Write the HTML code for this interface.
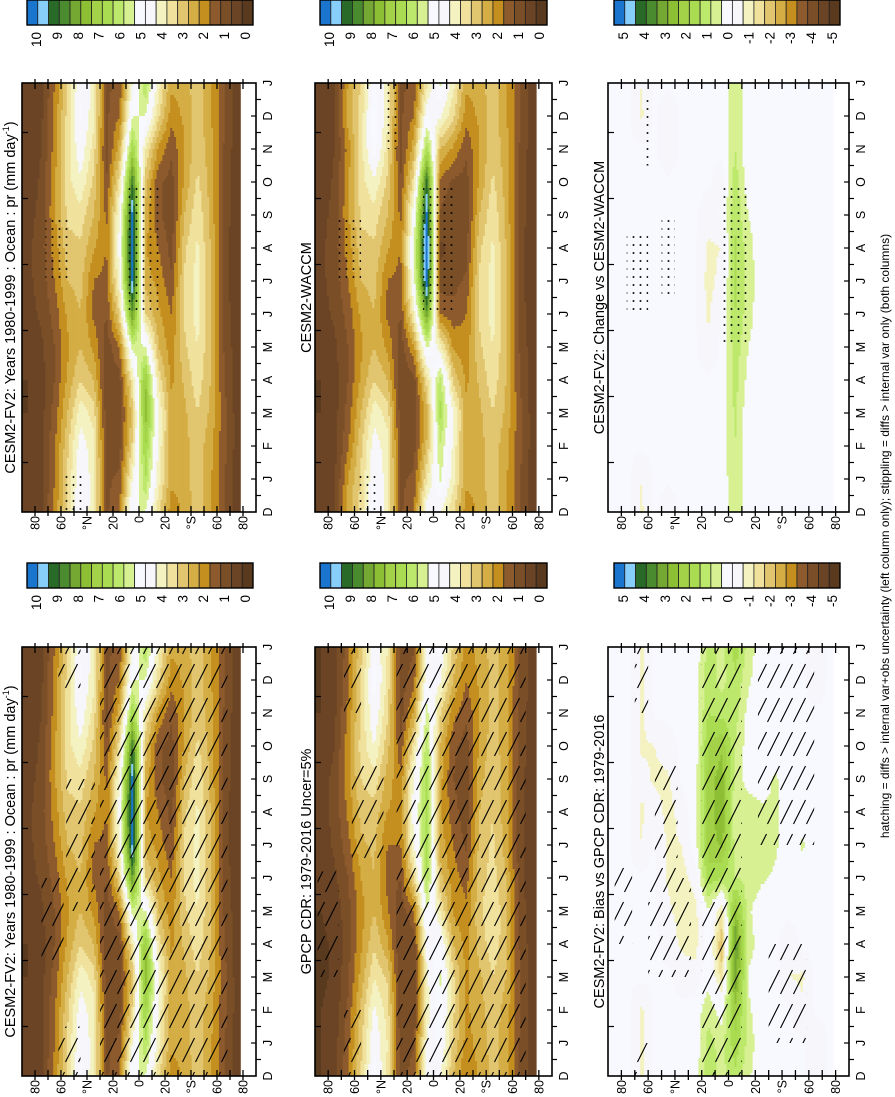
<!DOCTYPE html>
<html><head><meta charset="utf-8"><title>Precipitation zonal-mean seasonal cycle</title>
<style>
html,body{margin:0;padding:0;background:#fff;}
svg{display:block;font-family:"Liberation Sans",Arial,sans-serif;}
</style></head>
<body>
<svg id="fig" xmlns="http://www.w3.org/2000/svg" width="895" height="1097" viewBox="0 0 895 1097">
<defs>
<pattern id="hatch" patternUnits="userSpaceOnUse" width="34" height="13"><line x1="1" y1="0.5" x2="25" y2="12.5" stroke="#000" stroke-width="1.1"/></pattern>
<pattern id="stip" patternUnits="userSpaceOnUse" width="8" height="7"><circle cx="4" cy="3.5" r="0.95" fill="#000"/></pattern>
</defs>
<g id="root" transform="translate(0,1097) rotate(-90)"></g>
</svg>
<script>
// ---------- data ----------
const monthLabels = ['D','J','F','M','A','M','J','J','A','S','O','N','D','J'];
const lats = [85,75,65,55,45,35,25,15,5,-5,-15,-25,-35,-45,-55,-65,-75];
const latTickVals = [80,60,40,20,0,-20,-40,-60,-80];
const latTickLabels = ['80','60','°N','20','0','20','°S','60','80'];
const meanCbLabels = ['10','9','8','7','6','5','4','3','2','1','0'];
const diffCbLabels = ['5','4','3','2','1','0','-1','-2','-3','-4','-5'];

// months J..D ; rows = lats
const modelPr = [
[0.6,0.6,0.5,0.5,0.6,0.8,0.9,0.9,0.8,0.7,0.6,0.6],
[0.9,0.9,0.8,0.8,0.9,1.1,1.2,1.3,1.2,1.1,1.0,0.9],
[2.0,1.9,1.7,1.5,1.5,1.7,2.0,2.2,2.4,2.4,2.2,2.1],
[3.6,3.4,3.0,2.6,2.4,2.6,3.0,3.3,3.6,3.8,3.8,3.7],
[5.0,4.8,4.3,3.5,3.0,3.0,3.2,3.4,3.8,4.4,4.9,5.1],
[4.3,4.2,3.8,3.0,2.4,1.9,2.0,2.6,3.0,3.4,3.8,4.2],
[1.4,1.3,1.2,1.1,1.2,1.5,1.8,2.0,1.9,1.5,1.3,1.4],
[1.6,1.3,1.2,1.3,2.0,3.5,4.5,4.8,4.6,3.8,2.8,2.0],
[4.5,3.6,3.2,4.0,5.8,8.5,10.2,10.5,10.2,9.0,7.0,5.5],
[6.5,7.0,7.8,7.5,5.5,3.5,2.8,2.5,2.8,3.2,4.0,5.5],
[4.2,4.4,4.6,3.8,3.0,2.6,2.3,2.0,1.6,1.6,2.4,3.6],
[2.6,2.6,2.6,2.4,2.2,2.0,1.6,1.3,1.2,1.3,1.6,2.2],
[2.8,2.8,2.9,3.1,3.4,3.6,3.6,3.4,3.0,2.6,2.5,2.6],
[3.3,3.3,3.5,3.8,4.0,4.2,4.2,4.1,3.9,3.6,3.4,3.3],
[2.6,2.7,2.9,3.0,3.1,3.1,3.1,3.0,2.9,2.8,2.7,2.6],
[1.6,1.7,1.7,1.6,1.5,1.4,1.3,1.3,1.4,1.5,1.5,1.6],
[0.8,0.8,0.8,0.7,0.7,0.6,0.6,0.6,0.6,0.7,0.7,0.8]];

const gpcpPr = [
[0.5,0.5,0.4,0.4,0.5,0.6,0.7,0.8,0.7,0.6,0.5,0.5],
[0.8,0.7,0.6,0.6,0.7,0.9,1.1,1.2,1.2,1.0,0.9,0.8],
[1.8,1.6,1.4,1.3,1.3,1.5,1.8,2.1,2.3,2.3,2.1,1.9],
[3.4,3.1,2.7,2.4,2.3,2.5,2.9,3.2,3.5,3.7,3.6,3.5],
[5.0,4.6,4.0,3.4,3.0,3.0,3.1,3.3,3.8,4.5,5.0,5.2],
[4.0,3.8,3.4,2.6,2.1,1.8,2.0,2.5,2.8,3.2,3.6,3.9],
[1.2,1.1,1.0,1.0,1.1,1.5,2.0,2.3,2.1,1.6,1.2,1.2],
[1.4,1.1,1.0,1.2,2.0,3.6,4.5,4.8,4.6,3.8,2.6,1.8],
[4.6,4.2,4.4,4.8,5.5,6.5,6.8,6.8,6.7,6.4,5.8,5.0],
[5.2,5.4,5.6,5.2,4.0,3.2,2.8,2.6,2.7,3.0,3.6,4.6],
[3.4,3.6,3.6,3.0,2.4,2.2,2.0,1.7,1.5,1.6,2.2,3.0],
[2.3,2.4,2.4,2.3,2.1,1.8,1.4,1.2,1.2,1.3,1.6,2.0],
[2.7,2.8,2.9,3.2,3.4,3.3,3.2,3.0,2.8,2.6,2.5,2.6],
[3.2,3.3,3.5,3.8,3.9,3.7,3.6,3.5,3.4,3.3,3.2,3.2],
[2.7,2.8,3.0,3.2,3.2,3.0,2.8,2.7,2.7,2.7,2.7,2.7],
[1.5,1.6,1.6,1.5,1.4,1.3,1.3,1.3,1.3,1.4,1.4,1.5],
[0.8,0.8,0.8,0.7,0.6,0.6,0.6,0.6,0.6,0.7,0.7,0.8]];

const waccmPr = [
[0.6,0.6,0.5,0.5,0.6,0.8,0.9,0.9,0.8,0.7,0.6,0.6],
[0.9,0.9,0.8,0.8,0.9,1.1,1.2,1.3,1.2,1.1,1.0,0.9],
[2.5,1.9,1.7,1.5,1.5,1.7,2.0,2.2,2.4,2.4,2.2,2.7],
[3.6,3.4,3.0,2.6,2.4,2.6,3.0,3.3,3.6,3.8,3.8,3.7],
[5.0,4.8,4.3,3.5,3.0,3.0,3.2,3.4,3.8,4.4,5.3,5.5],
[4.3,4.2,3.8,3.0,2.4,1.9,2.0,2.6,3.0,3.4,3.8,4.2],
[1.4,1.3,1.2,1.1,1.2,1.5,1.8,2.0,1.9,1.5,1.3,1.4],
[1.6,1.3,1.2,1.3,2.4,4.1,5.2,5.4,4.9,3.8,2.8,2.0],
[3.9,3.1,2.8,3.7,5.6,8.5,10.5,11.0,10.2,9.3,6.7,5.0],
[5.6,6.0,6.7,6.3,4.2,2.0,1.2,0.9,1.4,1.9,3.0,4.6],
[4.2,4.4,4.6,3.4,2.4,1.7,1.3,1.1,1.0,1.4,2.4,3.6],
[2.6,2.6,2.6,2.4,2.2,2.0,1.6,1.3,1.2,1.3,1.6,2.2],
[2.8,2.8,2.9,3.1,3.4,3.6,3.6,3.4,3.0,2.6,2.5,2.6],
[3.3,3.3,3.5,3.8,4.0,4.2,4.2,4.1,3.9,3.6,3.4,3.3],
[2.6,2.7,2.9,3.0,3.1,3.1,3.1,3.0,2.9,2.8,2.7,2.6],
[1.6,1.7,1.7,1.6,1.5,1.4,1.3,1.3,1.4,1.5,1.5,1.6],
[0.8,0.8,0.8,0.7,0.7,0.6,0.6,0.6,0.6,0.7,0.7,0.8]];

const biasPr = [
[0.1,0.1,0.1,0.1,0.1,0.1,0.1,0.1,0.1,0.1,0.1,0.1],
[0.1,0.1,0.1,0.1,0.1,0.1,0.1,0.1,0.1,0.1,0.1,0.1],
[-0.6,-0.6,0.1,0.1,0.1,0.1,-0.5,-0.6,-0.3,-0.6,-0.6,-0.6],
[0.1,0.1,0.1,0.1,0.1,0.1,0.1,-0.2,-0.6,-0.5,0.1,0.1],
[0.1,0.1,0.1,-0.2,-0.4,-0.6,-0.6,-0.7,-0.6,-0.2,0.1,0.1],
[0.1,0.1,-0.2,-0.6,-0.7,-0.7,-0.5,-0.3,0.1,0.1,0.1,0.1],
[0.1,0.2,-0.3,-0.7,-0.7,-0.3,0.2,0.3,0.2,0.1,0.2,0.2],
[1.2,0.8,0.3,0.2,0.5,1.8,2.2,2.2,2.2,2.0,1.5,1.3],
[0.8,0.2,-1.2,-2.0,-1.0,1.5,2.6,3.0,2.8,2.4,1.3,0.8],
[1.8,2.4,3.4,3.6,2.6,1.0,0.8,0.6,0.8,1.0,1.2,1.4],
[0.8,0.6,0.4,0.8,0.6,0.9,1.0,0.8,0.3,0.2,0.3,0.6],
[0.1,0.1,0.1,0.1,0.1,0.6,0.8,0.6,0.2,0.1,0.1,0.1],
[0.1,0.1,0.1,0.1,0.1,0.4,0.6,0.6,0.6,0.1,0.1,0.1],
[0.1,0.1,-0.5,-0.3,0.1,0.1,0.1,0.1,0.1,0.1,0.1,0.1],
[0.1,-0.4,-0.6,0.1,0.1,0.1,0.6,0.1,0.1,0.1,0.1,0.1],
[-0.5,0.1,0.1,0.1,0.1,0.1,0.1,0.1,0.1,0.1,0.1,-0.4],
[0.1,0.1,0.1,0.1,0.1,0.1,0.1,0.1,0.1,0.1,0.1,0.1]];

const changePr = [
[0.1,0.1,0.1,0.1,0.1,0.1,0.1,0.1,0.1,0.1,0.1,0.1],
[0.1,0.1,0.1,0.1,0.1,0.1,0.1,0.1,0.1,0.1,0.1,0.1],
[-0.5,0.1,0.1,0.1,0.1,0.1,0.1,0.1,0.1,0.1,0.1,-0.6],
[0.1,0.1,0.1,0.1,0.1,0.1,0.1,0.1,0.1,0.1,0.1,0.1],
[0.1,0.1,0.1,0.1,0.1,0.1,0.1,0.1,0.1,0.1,-0.4,-0.4],
[0.1,0.1,0.1,0.1,0.1,0.1,0.1,0.1,0.1,0.1,0.1,0.1],
[0.1,0.1,0.1,0.1,0.1,0.1,0.1,0.1,0.1,0.1,0.1,0.1],
[0.1,0.1,0.1,0.1,-0.4,-0.6,-0.7,-0.6,-0.3,0.1,0.1,0.1],
[0.2,0.2,0.2,0.1,0.1,0.1,-0.3,-0.5,0.1,-0.3,0.1,0.2],
[0.9,1.0,1.1,1.2,1.3,1.5,1.6,1.6,1.4,1.3,1.0,0.9],
[0.1,0.1,0.1,0.3,0.5,0.7,0.8,0.7,0.5,0.1,0.1,0.1],
[0.1,0.1,0.1,0.1,0.1,0.1,0.1,0.1,0.1,0.1,0.1,0.1],
[0.1,0.1,0.1,0.1,0.1,0.1,0.1,0.1,0.1,0.1,0.1,0.1],
[0.1,0.1,0.1,0.1,0.1,0.1,0.1,0.1,0.1,0.1,0.1,0.1],
[0.1,0.1,0.1,0.1,0.1,0.1,0.1,0.1,0.1,0.1,0.1,0.1],
[0.1,0.1,0.1,0.1,0.1,0.1,0.1,0.1,0.1,0.1,0.1,0.1],
[0.1,0.1,0.1,0.1,0.1,0.1,0.1,0.1,0.1,0.1,0.1,0.1]];

// significance regions: [monthPosStart, monthPosEnd, latTop, latBottom]
const hatchModel = [[0,13,30,-68],[3.5,6,75,58],[5,9,56,34],[0,1.5,62,45],[11.5,13,62,45]];
const hatchGpcp = [[0,13,28,-70],[3,6.2,88,72],[6.5,9.5,62,38],[0,2,68,55],[11,13,68,55]];
const hatchBias = [[0,13,20,-10],[3,6,60,28],[6,9.5,55,38],[1,4,-30,-58],[7,13,-22,-64],[0,1,70,60],[11,13,70,60],[4,6.5,85,72]];
const stipModel = [[6,10,8,-15],[7,9,72,55],[0,1.2,58,42]];
const stipWaccm = [[6,10,8,-15],[7,9,72,55],[0,1.2,58,42],[11,13,35,25]];
const stipChange = [[5,10,5,-15],[6,8.5,76,60],[6.5,9,50,40],[10.5,12.5,65,58]];

const palette = ['#1a75cf','#87cefa','#2a6a28','#4b8b2f','#74a833','#8dbf35','#a3d248','#aadc52','#bce86c','#d6f092','#f8f8ff','#f6f6fb','#f3f2c0','#f0e29d','#e1c56f','#d4ad45','#c48f1f','#8c5a2c','#7a4e26','#6a4424','#593a1f'];

// ---------- layout ----------
const NS = 'http://www.w3.org/2000/svg';
const root = document.getElementById('root');
function el(tag, attrs, parent){ const e=document.createElementNS(NS,tag); for(const k in attrs) e.setAttribute(k,attrs[k]); (parent||root).appendChild(e); return e; }

const L = {u0:21,u1:450}, R = {u0:585,u1:1014};
const rows = [{v0:22,v1:256,cb:[27,253],tv:15},{v0:315,v1:552,cb:[320,547],tv:311},{v0:608,v1:849,cb:[614,840],tv:604}];
const panels = [
 {name:'model-mean-panel', col:L, row:0, data:modelPr, kind:'mean', title:'CESM2-FV2: Years 1980-1999 : Ocean : pr (mm day', sup:true, hatch:hatchModel, stip:[]},
 {name:'model-mean-panel-2', col:R, row:0, data:modelPr, kind:'mean', title:'CESM2-FV2: Years 1980-1999 : Ocean : pr (mm day', sup:true, hatch:[], stip:stipModel},
 {name:'gpcp-obs-panel', col:L, row:1, data:gpcpPr, kind:'mean', title:'GPCP CDR: 1979-2016 Uncer=5%', hatch:hatchGpcp, stip:[]},
 {name:'waccm-panel', col:R, row:1, data:waccmPr, kind:'mean', title:'CESM2-WACCM', hatch:[], stip:stipWaccm},
 {name:'bias-panel', col:L, row:2, data:biasPr, kind:'diff', title:'CESM2-FV2: Bias vs GPCP CDR: 1979-2016', hatch:hatchBias, stip:[]},
 {name:'change-panel', col:R, row:2, data:changePr, kind:'diff', title:'CESM2-FV2: Change vs CESM2-WACCM', hatch:[], stip:stipChange}
];

function colorIdx(val, kind){
  const top = kind==='mean'?10:5;
  if(val>=top) return 0;
  return Math.max(0,Math.min(20,Math.floor((top-val)/0.5)+1));
}
function sample(data, t, lat){
  let i0=Math.floor(t), f=t-i0; if(i0>=13){i0=12;f=1;}
  const m0=(i0+11)%12, m1=(i0+12)%12;
  let r=(85-lat)/10; r=Math.max(0,Math.min(16,r));
  const r0=Math.min(15,Math.floor(r)), g=r-r0;
  const a=data[r0][m0]*(1-f)+data[r0][m1]*f;
  const b=data[r0+1][m0]*(1-f)+data[r0+1][m1]*f;
  return a*(1-g)+b*g;
}

panels.forEach(p=>{
  const row=rows[p.row], col=p.col;
  const uOf=t=>col.u0+t*(col.u1-col.u0)/13;
  const vOf=lat=>row.v0+(90-lat)*(row.v1-row.v0)/180;
  const g=el('g',{});
  
  
  const hm=el('g',{},g);
  
  
  const NU=143, dLat=1.5;
  for(let lat=90; lat>-78; lat-=dLat){
    const vA=vOf(lat), vB=vOf(Math.max(lat-dLat,-78));
    let runStart=0, runIdx=-1;
    for(let k=0;k<=NU;k++){
      let idx=-2;
      if(k<NU){ const t=(k+0.5)*13/NU; idx=colorIdx(sample(p.data,t,lat-dLat/2),p.kind); }
      if(idx!==runIdx){
        if(runIdx>=0){
          const r=el('rect',{x:uOf(runStart*13/NU).toFixed(2),y:vA.toFixed(2),width:(uOf(k*13/NU)-uOf(runStart*13/NU)+0.4).toFixed(2),height:(vB-vA+0.4).toFixed(2),fill:palette[runIdx]},hm);
          
          
        }
        runStart=k; runIdx=idx;
      }
    }
  }
  p.hatch.forEach(h=>{
    const r=el('rect',{x:uOf(h[0]),y:vOf(h[2]),width:uOf(h[1])-uOf(h[0]),height:vOf(h[3])-vOf(h[2]),fill:'url(#hatch)'},g);
    
    
  });
  p.stip.forEach(h=>{
    const r=el('rect',{x:uOf(h[0]),y:vOf(h[2]),width:uOf(h[1])-uOf(h[0]),height:vOf(h[3])-vOf(h[2]),fill:'url(#stip)'},g);
    
    
  });
  const fr=el('rect',{x:col.u0,y:row.v0,width:col.u1-col.u0,height:row.v1-row.v0,fill:'none',stroke:'#000','stroke-width':1.6},g);
  
  
  for(let lat=80; lat>=-80; lat-=10){
    const v=vOf(lat);
    el('line',{x1:col.u0-4,y1:v,x2:col.u0+6,y2:v,stroke:'#000','stroke-width':1.3},g);
    el('line',{x1:col.u1-6,y1:v,x2:col.u1+4,y2:v,stroke:'#000','stroke-width':1.3},g);
  }
  latTickVals.forEach((lt,i)=>{
    const t=el('text',{x:col.u0-4,y:vOf(lt)+4.5,'text-anchor':'end','font-size':12.5,fill:'#000'},g);
    t.textContent=latTickLabels[i];
    
    
  });
  monthLabels.forEach((m,i)=>{
    const u=uOf(i);
    if(i>0&&i<13) el('line',{x1:u,y1:row.v1-5,x2:u,y2:row.v1,stroke:'#000','stroke-width':1.2},g);
    if(i<13){ const um=uOf(i+0.5); el('line',{x1:um,y1:row.v1,x2:um,y2:row.v1+5,stroke:'#000','stroke-width':1.2},g);
      if(i%2===1) el('line',{x1:um,y1:row.v0,x2:um,y2:row.v0+6,stroke:'#000','stroke-width':1.2},g); }
    const t=el('text',{x:u,y:row.v1+16,'text-anchor':'middle','font-size':12.5,fill:'#000'},g);
    t.textContent=m;
    
    
  });
  const tt=el('text',{x:(col.u0+col.u1)/2,y:row.tv,'text-anchor':'middle','font-size':14.5,fill:'#000'},g);
  tt.textContent=p.title;
  
  
  if(p.sup){
    const s=el('tspan',{'font-size':9,dy:-6},tt); s.textContent='-1';
    const s2=el('tspan',{dy:6},tt); s2.textContent=')';
  }
  const cbU0 = col===L?509:1072, cbU1 = col===L?534:1097;
  const cb=el('g',{},g);
  
  
  const len=row.cb[1]-row.cb[0], cw=len/21;
  for(let i=0;i<21;i++){
    const r=el('rect',{x:cbU0,y:row.cb[0]+i*cw,width:cbU1-cbU0,height:cw,fill:palette[i],stroke:'#222','stroke-width':0.8},cb);
    
    
  }
  el('rect',{x:cbU0,y:row.cb[0],width:cbU1-cbU0,height:len,fill:'none',stroke:'#000','stroke-width':1.4},cb);
  const labs=p.kind==='mean'?meanCbLabels:diffCbLabels;
  labs.forEach((lb,i)=>{
    const t=el('text',{x:cbU0-7,y:row.cb[0]+(9+i*20.9)*len/226+5,'text-anchor':'end','font-size':13.5,fill:'#000'},cb);
    t.textContent=lb;
    
    
  });
});

const cap=el('text',{x:561,y:889,'text-anchor':'middle','font-size':12,fill:'#000'});
cap.textContent='hatching = diffs > internal var+obs uncertainty (left column only); stippling = diffs > internal var only (both columns)';


</script>
</body></html>
